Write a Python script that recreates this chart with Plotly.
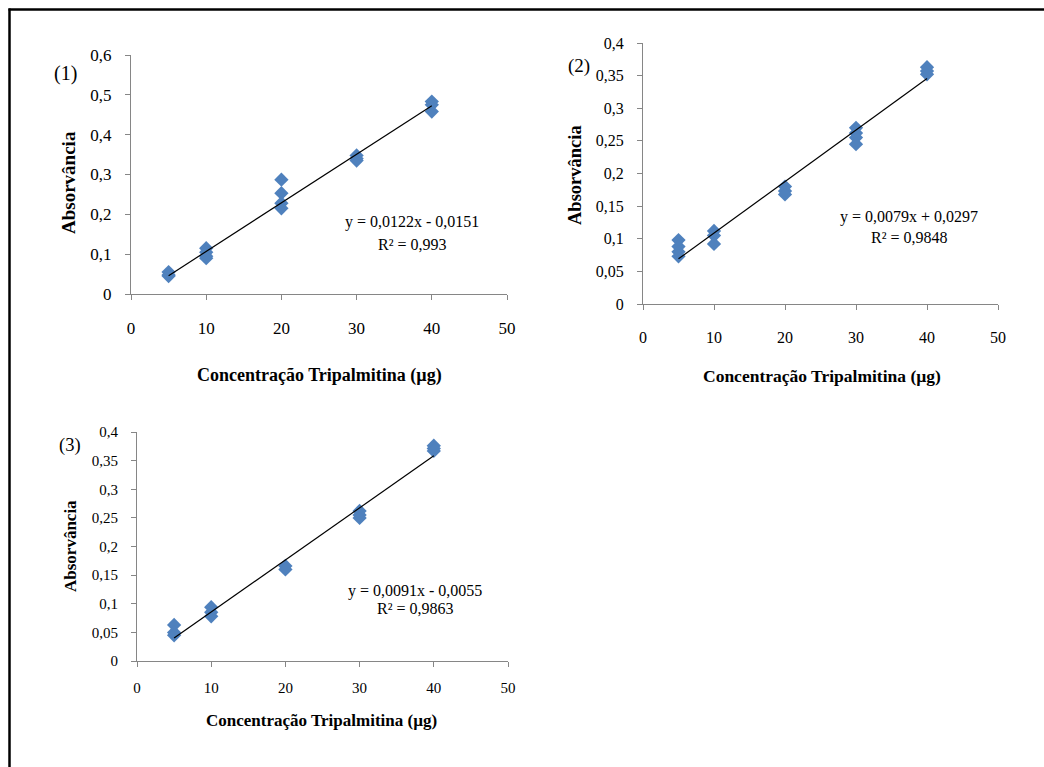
import plotly.graph_objects as go

W, H = 1044, 767

# ---- data ----
conc1 = [5, 5, 5, 10, 10, 10, 10, 20, 20, 20, 20, 30, 30, 30, 40, 40, 40]
abs1 = [0.055, 0.048, 0.045, 0.115, 0.105, 0.095, 0.09, 0.287, 0.253, 0.228, 0.215, 0.348, 0.34, 0.335, 0.483, 0.475, 0.458]
conc2 = [5, 5, 5, 5, 10, 10, 10, 20, 20, 20, 30, 30, 30, 30, 40, 40, 40]
abs2 = [0.098, 0.088, 0.08, 0.073, 0.112, 0.105, 0.092, 0.18, 0.173, 0.168, 0.27, 0.262, 0.255, 0.245, 0.363, 0.357, 0.352]
conc3 = [5, 5, 5, 10, 10, 10, 20, 20, 30, 30, 30, 40, 40, 40]
abs3 = [0.063, 0.05, 0.045, 0.094, 0.085, 0.078, 0.166, 0.16, 0.262, 0.255, 0.25, 0.376, 0.371, 0.367]

slopes = [0.0122, 0.0079, 0.0091]
intercepts = [-0.0151, 0.0297, -0.0055]
equations = ["y = 0,0122x - 0,0151", "y = 0,0079x + 0,0297", "y = 0,0091x - 0,0055"]
r2_texts = ["R² = 0,993", "R² = 0,9848", "R² = 0,9863"]
panel_labels = ["(1)", "(2)", "(3)"]

x_ticks = [0, 10, 20, 30, 40, 50]
x_ticktext = ["0", "10", "20", "30", "40", "50"]
y_ticks1 = [0, 0.1, 0.2, 0.3, 0.4, 0.5, 0.6]
y_ticktext1 = ["0", "0,1", "0,2", "0,3", "0,4", "0,5", "0,6"]
y_ticks23 = [0, 0.05, 0.1, 0.15, 0.2, 0.25, 0.3, 0.35, 0.4]
y_ticktext23 = ["0", "0,05", "0,1", "0,15", "0,2", "0,25", "0,3", "0,35", "0,4"]

x_title = "Concentração Tripalmitina (µg)"
y_title = "Absorvância"

# ---- layout geometry (pixels) ----
panels = [
    dict(x0=131, x1=507, ytop=55, ybot=294, yr=[0, 0.6], yt=y_ticks1, ytt=y_ticktext1,
         tick_font=17, xtitle_font=18, ytitle_font=19, lab_font=20,
         eq_xy=(412, 222), r2_xy=(412, 245), lab_xy=(65, 74),
         ytit_xy=(68, 183), xtit_xy=(319, 375), xstand=14),
    dict(x0=643, x1=998, ytop=43, ybot=304, yr=[0, 0.4], yt=y_ticks23, ytt=y_ticktext23,
         tick_font=16, xtitle_font=17.5, ytitle_font=18.5, lab_font=19,
         eq_xy=(909, 217), r2_xy=(909, 238), lab_xy=(579, 66),
         ytit_xy=(575, 175), xtit_xy=(822, 376), xstand=14),
    dict(x0=137, x1=508, ytop=432, ybot=661, yr=[0, 0.4], yt=y_ticks23, ytt=y_ticktext23,
         tick_font=15, xtitle_font=17, ytitle_font=17, lab_font=18.5,
         eq_xy=(415, 591), r2_xy=(415, 608), lab_xy=(70, 445),
         ytit_xy=(70, 546), xtit_xy=(321, 720), xstand=8),
]
data = [(conc1, abs1), (conc2, abs2), (conc3, abs3)]

SERIF = "Liberation Serif"
BLUE = "#4F81BD"
AXIS = "#868686"

fig = go.Figure()
annotations = []
layout = {}

def px(x):
    return x / W

def py(y):
    return 1 - y / H

for i, (p, (cx, cy)) in enumerate(zip(panels, data)):
    n = "" if i == 0 else str(i + 1)
    xa, ya = "x" + n, "y" + n
    fig.add_trace(go.Scatter(
        x=cx, y=cy, mode="markers", xaxis=xa, yaxis=ya,
        marker=dict(symbol="diamond", size=11, color=BLUE, line=dict(width=0)),
        showlegend=False, cliponaxis=False))
    xl = [min(cx), max(cx)]
    yl = [slopes[i] * v + intercepts[i] for v in xl]
    fig.add_trace(go.Scatter(
        x=xl, y=yl, mode="lines", xaxis=xa, yaxis=ya,
        line=dict(color="black", width=1.2), showlegend=False))

    layout["xaxis" + n] = dict(
        domain=[px(p["x0"]), px(p["x1"])], range=[0, 50], anchor=ya,
        tickvals=x_ticks, ticktext=x_ticktext, ticks="outside", ticklen=5,
        tickcolor=AXIS, showline=True, linecolor=AXIS, linewidth=1,
        showgrid=False, zeroline=False, automargin=False,
        tickfont=dict(family=SERIF, size=p["tick_font"], color="black"),
        ticklabelstandoff=p["xstand"])
    layout["yaxis" + n] = dict(
        domain=[py(p["ybot"]), py(p["ytop"])], range=p["yr"], anchor=xa,
        tickvals=p["yt"], ticktext=p["ytt"], ticks="outside", ticklen=5,
        tickcolor=AXIS, showline=True, linecolor=AXIS, linewidth=1,
        showgrid=False, zeroline=False, automargin=False,
        tickfont=dict(family=SERIF, size=p["tick_font"], color="black"),
        ticklabelstandoff=10)

    def ann(text, xy, size, bold=False, angle=0):
        annotations.append(dict(
            text=("<b>%s</b>" % text) if bold else text,
            x=px(xy[0]), y=py(xy[1]), xref="paper", yref="paper",
            xanchor="center", yanchor="middle", showarrow=False, textangle=angle,
            font=dict(family=SERIF, size=size, color="black")))

    ann(equations[i], p["eq_xy"], 16)
    ann(r2_texts[i], p["r2_xy"], 16)
    ann(panel_labels[i], p["lab_xy"], p["lab_font"])
    ann(y_title, p["ytit_xy"], p["ytitle_font"], bold=True, angle=-90)
    ann(x_title, p["xtit_xy"], p["xtitle_font"], bold=True)

shapes = [
    dict(type="line", xref="paper", yref="paper", x0=px(8.5), x1=1, y0=py(9.5), y1=py(9.5),
         line=dict(color="black", width=2.5)),
    dict(type="line", xref="paper", yref="paper", x0=px(9.5), x1=px(9.5), y0=py(8.5), y1=0,
         line=dict(color="black", width=2.5)),
]

fig.update_layout(
    width=W, height=H, margin=dict(l=0, r=0, t=0, b=0, autoexpand=False),
    paper_bgcolor="white", plot_bgcolor="white",
    annotations=annotations, shapes=shapes, **layout)

fig.write_html(
    "out.html",
    config={"displayModeBar": False},
    post_script="document.body.style.margin='0';",
)
